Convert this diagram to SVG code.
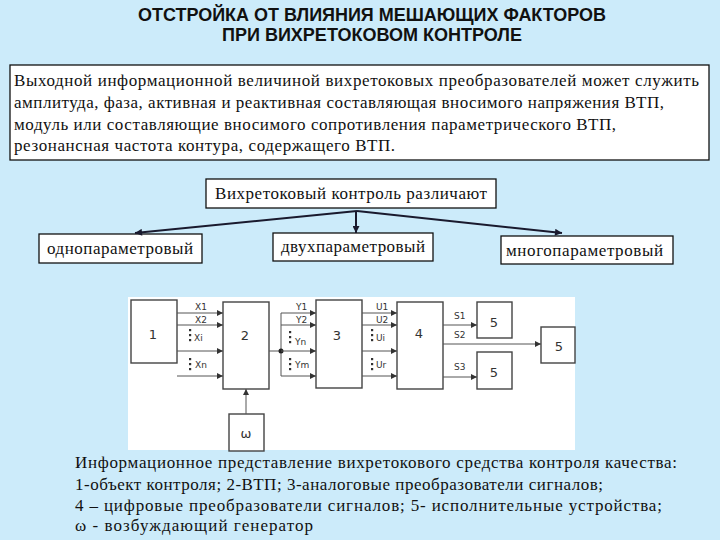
<svg xmlns="http://www.w3.org/2000/svg" width="720" height="540" viewBox="0 0 720 540">
<defs>
<style>
.title{font-family:"Liberation Sans",Arial,sans-serif;font-weight:bold;font-size:19px;fill:#111;}
.ser{font-family:"Liberation Serif","Times New Roman",serif;font-size:17px;fill:#111;}
.box{fill:#fff;stroke:#111;stroke-width:1.3;}
.blk{fill:#fff;stroke:#444;stroke-width:1.4;}
.num{font-family:"DejaVu Sans",Verdana,sans-serif;font-size:13px;fill:#333;text-anchor:middle;}
.sig{font-family:"DejaVu Sans",Verdana,sans-serif;font-size:9px;fill:#333;}
.wire{stroke:#555;stroke-width:1;fill:none;}
.carrow{stroke:#1a1a2e;stroke-width:2;fill:none;}
.dot{fill:#333;}
</style>
<marker id="ah" viewBox="0 0 10 10" refX="10" refY="5" markerWidth="7" markerHeight="6" markerUnits="userSpaceOnUse" orient="auto">
<path d="M0,0 L10,5 L0,10 z" fill="#333"/>
</marker>
<marker id="ah2" viewBox="0 0 10 10" refX="10" refY="5" markerWidth="8" markerHeight="7" markerUnits="userSpaceOnUse" orient="auto">
<path d="M0,0 L10,5 L0,10 z" fill="#1a1a2e"/>
</marker>
</defs>
<rect x="0" y="0" width="720" height="540" fill="#CCEBFA"/>

<g id="title">
<text class="title" x="138" y="21" textLength="468" lengthAdjust="spacingAndGlyphs">ОТСТРОЙКА ОТ ВЛИЯНИЯ МЕШАЮЩИХ ФАКТОРОВ</text>
<text class="title" x="222" y="41" textLength="300" lengthAdjust="spacingAndGlyphs">ПРИ ВИХРЕТОКОВОМ КОНТРОЛЕ</text>
</g>

<g id="intro">
<rect class="box" x="10" y="65" width="699" height="95" stroke-width="1.6"/>
<text class="ser" x="14" y="86" textLength="685" lengthAdjust="spacing">Выходной информационной величиной вихретоковых преобразователей может служить</text>
<text class="ser" x="14" y="108" textLength="650" lengthAdjust="spacing">амплитуда, фаза, активная и реактивная составляющая вносимого напряжения ВТП,</text>
<text class="ser" x="14" y="130" textLength="602" lengthAdjust="spacing">модуль или составляющие вносимого сопротивления параметрического ВТП,</text>
<text class="ser" x="14" y="151" textLength="381" lengthAdjust="spacing">резонансная частота контура, содержащего ВТП.</text>
</g>

<g id="root">
<rect class="box" x="206" y="179" width="290" height="29"/>
<text class="ser" x="215" y="199" textLength="272" lengthAdjust="spacing">Вихретоковый контроль различают</text>
</g>
<g id="one">
<rect class="box" x="39" y="234" width="163" height="29"/>
<text class="ser" x="47" y="254" textLength="146" lengthAdjust="spacing">однопараметровый</text>
</g>
<g id="two">
<rect class="box" x="273" y="233" width="160" height="28"/>
<text class="ser" x="281" y="252" textLength="144" lengthAdjust="spacing">двухпараметровый</text>
</g>
<g id="multi">
<rect class="box" x="501" y="236" width="172" height="28"/>
<text class="ser" x="506" y="256" textLength="157" lengthAdjust="spacing">многопараметровый</text>
</g>

<g id="class-connectors">
<line class="carrow" x1="357" y1="211" x2="135" y2="233" marker-end="url(#ah2)"/>
<line class="carrow" x1="356" y1="211" x2="356" y2="233" marker-end="url(#ah2)"/>
<line class="carrow" x1="357" y1="211" x2="562" y2="233" marker-end="url(#ah2)"/>
</g>

<rect x="128" y="297" width="447" height="153" fill="#fff"/>

<g id="b1"><rect class="blk" x="131" y="300" width="46" height="63"/><text class="num" x="153" y="339">1</text></g>
<g id="b2"><rect class="blk" x="223" y="302" width="46" height="87"/><text class="num" x="245" y="340">2</text></g>
<g id="bw"><rect class="blk" x="229" y="414" width="35" height="37"/><text class="num" x="246" y="438">ω</text></g>
<g id="b3"><rect class="blk" x="316" y="300" width="46" height="88"/><text class="num" x="337" y="340">3</text></g>
<g id="b4"><rect class="blk" x="397" y="302" width="46" height="87"/><text class="num" x="419" y="338">4</text></g>
<g id="b5a"><rect class="blk" x="477" y="302" width="35" height="36"/><text class="num" x="494" y="327">5</text></g>
<g id="b5b"><rect class="blk" x="477" y="352" width="35" height="37"/><text class="num" x="494" y="377">5</text></g>
<g id="b5c"><rect class="blk" x="541" y="327" width="34" height="36"/><text class="num" x="559" y="351">5</text></g>

<g id="connectors">
<line class="wire" x1="177" y1="313" x2="223" y2="313" marker-end="url(#ah)"/>
<line class="wire" x1="177" y1="325" x2="223" y2="325" marker-end="url(#ah)"/>
<line class="wire" x1="177" y1="351" x2="223" y2="351" marker-end="url(#ah)"/>
<line class="wire" x1="177" y1="376" x2="223" y2="376" marker-end="url(#ah)"/>
<line class="wire" x1="246" y1="414" x2="246" y2="389" marker-end="url(#ah)"/>
<line class="wire" x1="269" y1="351" x2="281" y2="351"/>
<line class="wire" x1="281" y1="313" x2="281" y2="376"/>
<circle cx="281" cy="351" r="2.5" fill="#222"/>
<line class="wire" x1="281" y1="313" x2="316" y2="313" marker-end="url(#ah)"/>
<line class="wire" x1="281" y1="325" x2="316" y2="325" marker-end="url(#ah)"/>
<line class="wire" x1="281" y1="351" x2="316" y2="351" marker-end="url(#ah)"/>
<line class="wire" x1="281" y1="376" x2="316" y2="376" marker-end="url(#ah)"/>
<line class="wire" x1="362" y1="313" x2="397" y2="313" marker-end="url(#ah)"/>
<line class="wire" x1="362" y1="325" x2="397" y2="325" marker-end="url(#ah)"/>
<line class="wire" x1="362" y1="351" x2="397" y2="351" marker-end="url(#ah)"/>
<line class="wire" x1="362" y1="376" x2="397" y2="376" marker-end="url(#ah)"/>
<line class="wire" x1="443" y1="325" x2="477" y2="325" marker-end="url(#ah)"/>
<line class="wire" x1="443" y1="344" x2="541" y2="344" marker-end="url(#ah)"/>
<line class="wire" x1="443" y1="377" x2="477" y2="377" marker-end="url(#ah)"/>
</g>

<g id="signal-labels">
<text class="sig" x="195" y="310">X1</text>
<text class="sig" x="195" y="323">X2</text>
<text class="sig" x="194" y="341">Xi</text>
<text class="sig" x="195" y="368">Xn</text>
<text class="sig" x="296" y="310">Y1</text>
<text class="sig" x="296" y="323">Y2</text>
<text class="sig" x="295" y="345">Yn</text>
<text class="sig" x="295" y="368">Ym</text>
<text class="sig" x="376" y="310">U1</text>
<text class="sig" x="376" y="323">U2</text>
<text class="sig" x="376" y="341">Ui</text>
<text class="sig" x="376" y="368">Ur</text>
<text class="sig" x="454" y="319">S1</text>
<text class="sig" x="454" y="338">S2</text>
<text class="sig" x="454" y="370">S3</text>
<g class="dot">
<rect x="189" y="329" width="2.2" height="2.2"/><rect x="189" y="334" width="2.2" height="2.2"/><rect x="189" y="339" width="2.2" height="2.2"/>
<rect x="189" y="358" width="2.2" height="2.2"/><rect x="189" y="363" width="2.2" height="2.2"/><rect x="189" y="368" width="2.2" height="2.2"/>
<rect x="289" y="331" width="2.2" height="2.2"/><rect x="289" y="336" width="2.2" height="2.2"/><rect x="289" y="341" width="2.2" height="2.2"/>
<rect x="289" y="358" width="2.2" height="2.2"/><rect x="289" y="363" width="2.2" height="2.2"/><rect x="289" y="368" width="2.2" height="2.2"/>
<rect x="371" y="329" width="2.2" height="2.2"/><rect x="371" y="334" width="2.2" height="2.2"/><rect x="371" y="339" width="2.2" height="2.2"/>
<rect x="371" y="358" width="2.2" height="2.2"/><rect x="371" y="363" width="2.2" height="2.2"/><rect x="371" y="368" width="2.2" height="2.2"/>
</g>
</g>

<g id="caption">
<text class="ser" x="75" y="468" textLength="602" lengthAdjust="spacing">Информационное представление вихретокового средства контроля качества:</text>
<text class="ser" x="75" y="490" textLength="528" lengthAdjust="spacing">1-объект контроля; 2-ВТП; 3-аналоговые преобразователи сигналов;</text>
<text class="ser" x="75" y="511" textLength="587" lengthAdjust="spacing">4 – цифровые преобразователи сигналов; 5- исполнительные устройства;</text>
<text class="ser" x="75" y="531" textLength="238" lengthAdjust="spacing">ω - возбуждающий генератор</text>
</g>
</svg>
